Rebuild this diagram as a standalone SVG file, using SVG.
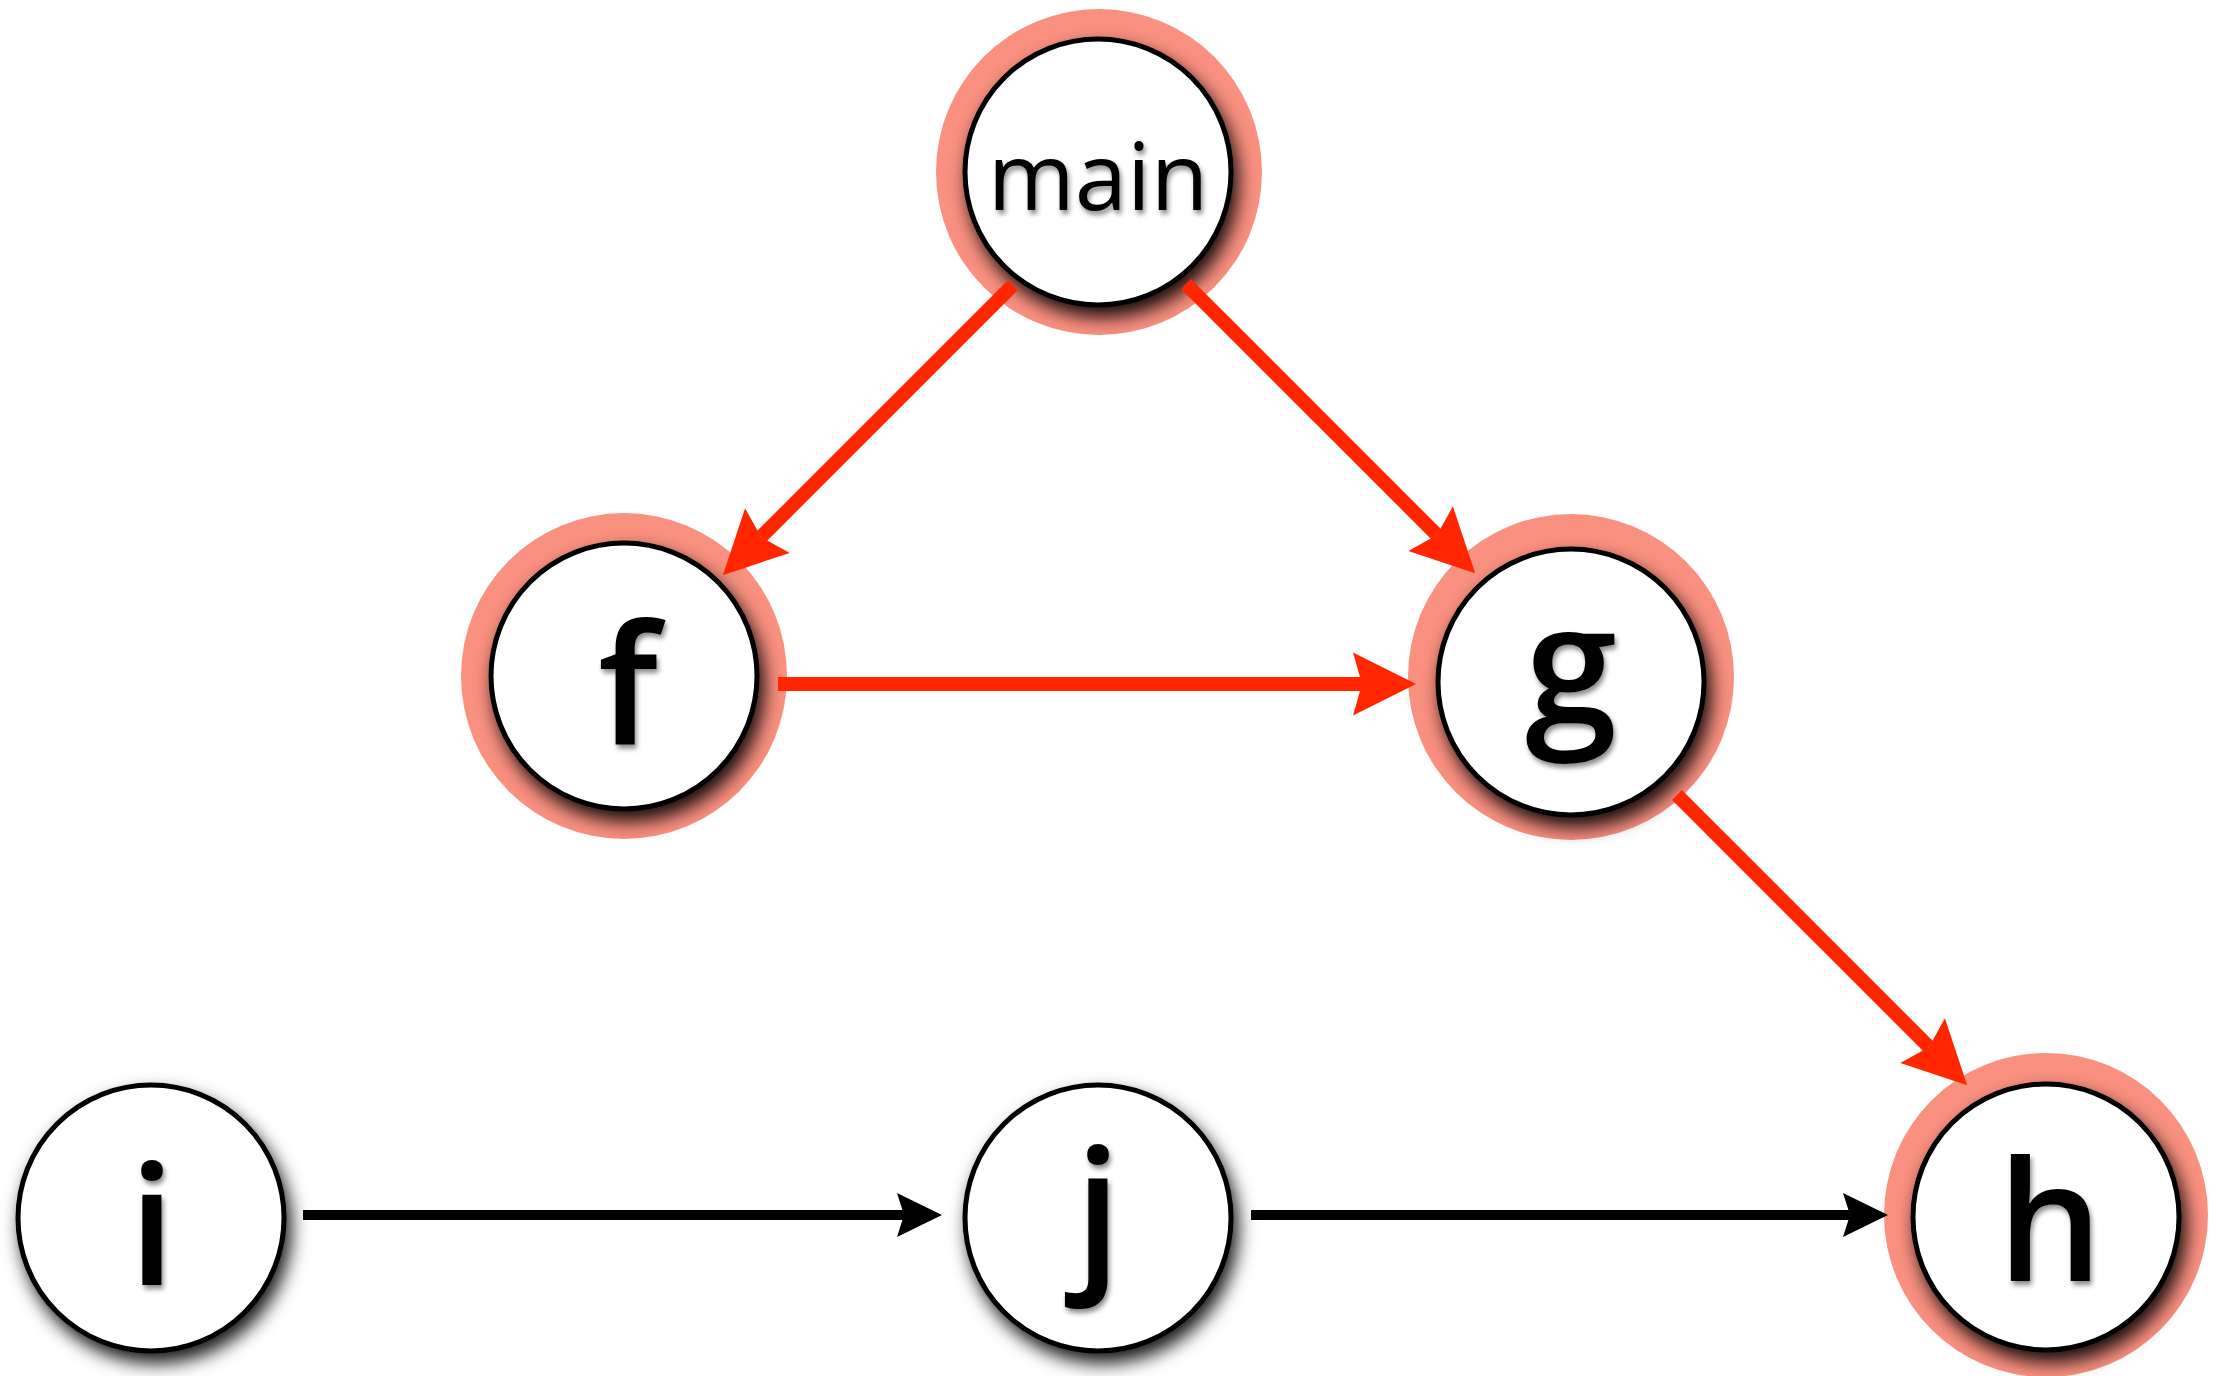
<svg xmlns="http://www.w3.org/2000/svg" width="2216" height="1376" viewBox="0 0 2216 1376">
<style>
.halo{fill:#FA9080}
.inner{fill:#fff;stroke:#000;stroke-width:5;filter:url(#sh)}
.lbl{font-family:"Open Sans","DejaVu Sans",sans-serif;font-size:166px;font-weight:600;fill:#000;text-anchor:middle;filter:url(#tsh)}
.small{font-size:94px;font-weight:500}
.red{stroke:#FF2600;stroke-width:14;fill:none;marker-end:url(#ah-red)}
.blk{stroke:#000;stroke-width:10;fill:none;marker-end:url(#ah-blk)}
</style>
<defs>
<filter id="sh" x="-25%" y="-25%" width="160%" height="160%">
<feDropShadow dx="5" dy="10" stdDeviation="9" flood-color="#000" flood-opacity="0.9"/>
</filter>
<filter id="tsh" x="-20%" y="-20%" width="150%" height="150%">
<feDropShadow dx="2" dy="4" stdDeviation="2.5" flood-color="#000" flood-opacity="0.45"/>
</filter>
<marker id="ah-red" markerUnits="userSpaceOnUse" orient="auto" refX="0" refY="0" markerWidth="10" markerHeight="10" overflow="visible">
<path d="M54,0 L-9,-31.5 L0,0 L-9,31.5 Z" fill="#FF2600"/>
</marker>
<marker id="ah-blk" markerUnits="userSpaceOnUse" orient="auto" refX="0" refY="0" markerWidth="10" markerHeight="10" overflow="visible">
<path d="M38,0 L-7,-22 L0,0 L-7,22 Z" fill="#000"/>
</marker>
</defs>
<rect width="2216" height="1376" fill="#fff"/>
<g id="node-main">
<circle class="halo" cx="1099" cy="172" r="163"/>
<circle class="inner" cx="1098" cy="172" r="133"/>
<text class="lbl small" x="1098" y="210">main</text>
</g>
<g id="node-f">
<circle class="halo" cx="624" cy="676" r="163"/>
<circle class="inner" cx="624" cy="676" r="133"/>
<text class="lbl" x="628" y="745">f</text>
</g>
<g id="node-g">
<circle class="halo" cx="1571" cy="677" r="163"/>
<circle class="inner" cx="1571" cy="682" r="133"/>
<text class="lbl" x="1571" y="724">g</text>
</g>
<g id="node-h">
<circle class="halo" cx="2046" cy="1215" r="162"/>
<circle class="inner" cx="2046" cy="1217" r="133"/>
<text class="lbl" x="2050" y="1281">h</text>
</g>
<g id="node-i">
<circle class="inner" cx="151" cy="1218" r="133"/>
<text class="lbl" x="152" y="1285">i</text>
</g>
<g id="node-j">
<circle class="inner" cx="1098" cy="1218" r="133"/>
<text class="lbl" x="1098" y="1269">j</text>
</g>
<g id="connectors">
<line class="red" x1="1013" y1="285" x2="761" y2="537"/>
<line class="red" x1="1186" y1="284" x2="1437" y2="535"/>
<line class="red" x1="778" y1="684" x2="1362" y2="684"/>
<line class="red" x1="1677" y1="795" x2="1929" y2="1047"/>
<line class="blk" x1="303" y1="1215" x2="904" y2="1215"/>
<line class="blk" x1="1251" y1="1215" x2="1850" y2="1215"/>
</g>
</svg>
